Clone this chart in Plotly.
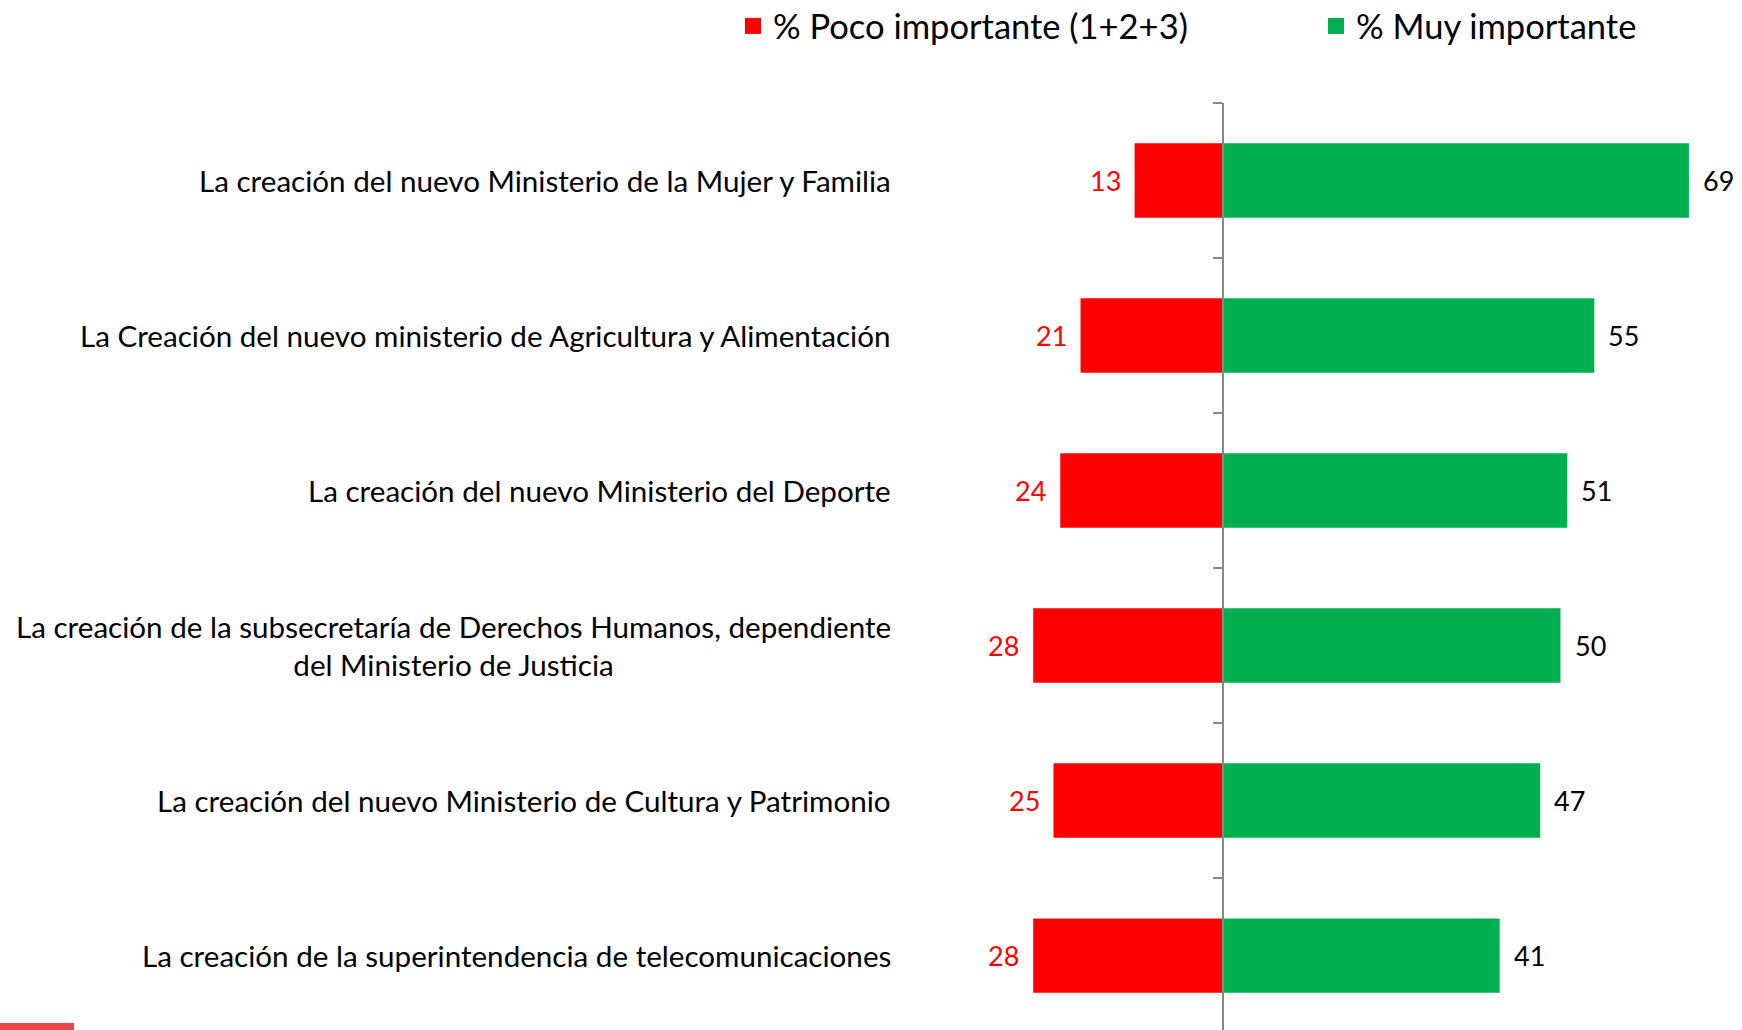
import plotly.graph_objects as go

categories = [
    "La creación del nuevo Ministerio de la Mujer y Familia",
    "La Creación del nuevo ministerio de Agricultura y Alimentación",
    "La creación del nuevo Ministerio del Deporte",
    "La creación de la subsecretaría de Derechos Humanos, dependiente<br>del Ministerio de Justicia",
    "La creación del nuevo Ministerio de Cultura y Patrimonio",
    "La creación de la superintendencia de telecomunicaciones",
]
poco_importante = [13, 21, 24, 28, 25, 28]
muy_importante = [69, 55, 51, 50, 47, 41]
series_names = ["% Poco importante (1+2+3)", "% Muy importante"]

W, H = 1742, 1030
FONT = "Lato"
RED = "#FF0000"
GREEN = "#00B050"

fig = go.Figure()
fig.add_trace(go.Bar(
    y=categories, x=[-v for v in poco_importante], orientation="h",
    name=series_names[0], marker=dict(color=RED, line=dict(width=0)),
    showlegend=False,
))
fig.add_trace(go.Bar(
    y=categories, x=muy_importante, orientation="h",
    name=series_names[1], marker=dict(color=GREEN, line=dict(width=0)),
    showlegend=False,
))
# legend entries with larger square symbols
fig.add_trace(go.Scatter(x=[None], y=[None], mode="markers", name=series_names[0],
                         marker=dict(symbol="square", size=20, color=RED), legend="legend"))
fig.add_trace(go.Scatter(x=[None], y=[None], mode="markers", name=series_names[1],
                         marker=dict(symbol="square", size=20, color=GREEN), legend="legend2"))

# value labels
for c, v in zip(categories, poco_importante):
    fig.add_annotation(x=-v, xref="x", y=c, yref="y", text=str(v), showarrow=False,
                       xanchor="right", xshift=-12, font=dict(family=FONT, size=27, color=RED))
for c, v in zip(categories, muy_importante):
    fig.add_annotation(x=v, xref="x", y=c, yref="y", text=str(v), showarrow=False,
                       xanchor="left", xshift=12, font=dict(family=FONT, size=27, color="black"))

px_per_unit = 6.76
zero_px = 1222.5
x_min = -zero_px / px_per_unit
x_max = (W - zero_px) / px_per_unit

for c in categories:
    fig.add_annotation(
        x=893 / W, xref="paper", y=c, yref="y", text=c, showarrow=False,
        xanchor="right", align="center",
        font=dict(family=FONT, size=29.6, color="black"),
    )

fig.add_shape(type="rect", xref="paper", yref="paper",
              x0=0, x1=74 / W, y0=0, y1=7 / 927,
              fillcolor="#E8464A", line=dict(width=0))

leg_y = (H + 3) / 927
legend_common = dict(orientation="h", xanchor="left", y=leg_y, yanchor="top",
                     font=dict(family=FONT, size=34.5, color="black"),
                     itemsizing="trace", bgcolor="rgba(0,0,0,0)")

fig.update_layout(
    width=W, height=H,
    margin=dict(l=0, r=0, t=103, b=0, pad=0, autoexpand=False),
    paper_bgcolor="white", plot_bgcolor="white",
    barmode="relative", bargap=0.52,
    font=dict(family=FONT, color="black"),
    showlegend=True,
    legend=dict(x=733 / W, **legend_common),
    legend2=dict(x=1316 / W, **legend_common),
    xaxis=dict(range=[x_min, x_max], visible=False, zeroline=False, showgrid=False,
               fixedrange=True, automargin=False),
    yaxis=dict(
        type="category", range=[5.48, -0.5], automargin=False, fixedrange=True,
        anchor="free", position=zero_px / W,
        showline=True, linecolor="#888888", linewidth=2,
        ticks="outside", tickson="boundaries", ticklen=9, tickcolor="#888888", tickwidth=2,
        showticklabels=False, showgrid=False, zeroline=False,
    ),
)

fig.write_html(
    "out.html",
    config={"displayModeBar": False},
    post_script="document.body.style.margin='0';document.body.style.overflow='hidden';",
)
